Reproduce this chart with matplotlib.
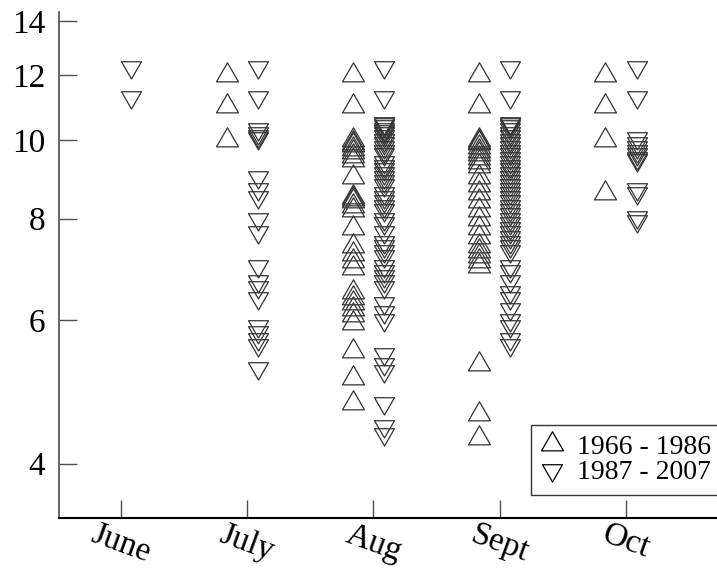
import numpy as np
import matplotlib
matplotlib.use('Agg')
from matplotlib import pyplot as plt
from matplotlib.path import Path
from matplotlib.lines import Line2D
from matplotlib.ticker import NullLocator

# 月份与坐标刻度
months = ['June', 'July', 'Aug', 'Sept', 'Oct']
y_ticks = [4, 6, 8, 10, 12, 14]
legend_labels = ['1966 - 1986', '1987 - 2007']

# 1966 - 1986 (正三角)
june_early = []
july_early = [12.0, 11.0, 10.0]
aug_early = [12.0, 11.0, 10.0, 9.9, 9.85, 9.75, 9.65, 9.55, 9.45, 9.0, 8.5, 8.45, 8.4,
             8.3, 8.2, 7.8, 7.4, 7.25, 7.1, 6.95, 6.5, 6.4, 6.3, 6.2, 6.1, 5.95, 5.5,
             5.1, 4.75]
sept_early = [12.0, 11.0, 10.0, 9.95, 9.9, 9.8, 9.7, 9.6, 9.5, 9.4, 9.3, 9.0, 8.8, 8.6,
              8.4, 8.2, 8.0, 7.8, 7.6, 7.4, 7.3, 7.2, 7.1, 7.0, 5.3, 4.6, 4.3]
oct_early = [12.0, 11.0, 10.0, 8.6]

# 1987 - 2007 (倒三角)
june_late = [12.3, 11.3]
july_late = [12.3, 11.3, 10.3, 10.2, 10.1, 10.05, 9.0, 8.7, 8.5, 8.0, 7.7, 7.0, 6.7,
             6.6, 6.4, 5.9, 5.8, 5.7, 5.6, 5.25]
aug_late = [12.3, 11.3, 10.5, 10.45, 10.4, 10.3, 10.25, 10.2, 10.1, 10.0, 9.9, 9.8, 9.7,
            9.6, 9.4, 9.3, 9.2, 9.1, 9.0, 8.9, 8.8, 8.6, 8.5, 8.4, 8.3, 8.2, 8.0, 7.9,
            7.7, 7.5, 7.4, 7.3, 7.2, 7.0, 6.9, 6.8, 6.7, 6.6, 6.3, 6.15, 6.0, 5.45,
            5.3, 5.2, 4.75, 4.45, 4.35]
sept_late = [12.3, 11.3, 10.5, 10.45, 10.4, 10.3, 10.2, 10.1, 10.0, 9.9, 9.8, 9.7, 9.6,
             9.5, 9.4, 9.3, 9.2, 9.1, 9.0, 8.9, 8.8, 8.7, 8.6, 8.5, 8.4, 8.3, 8.2, 8.1,
             8.0, 7.9, 7.8, 7.7, 7.6, 7.5, 7.4, 7.3, 7.0, 6.9, 6.7, 6.5, 6.4, 6.2, 6.0,
             5.9, 5.7, 5.6]
oct_late = [12.3, 11.3, 10.05, 9.9, 9.8, 9.7, 9.6, 9.5, 9.45, 8.7, 8.6, 8.05, 7.95]

early = [june_early, july_early, aug_early, sept_early, oct_early]
late = [june_late, july_late, aug_late, sept_late, oct_late]


def tri_marker(up=True):
    # 等边三角形，重心在原点
    s = 1 if up else -1
    verts = [(0, s * 1.0), (-0.866, -s * 0.5), (0.866, -s * 0.5), (0, s * 1.0)]
    return Path(verts, closed=True)


up_marker = tri_marker(True)
down_marker = tri_marker(False)
edge = '0.2'

plt.rcParams['font.family'] = ['Liberation Serif', 'DejaVu Serif']

fig = plt.figure(figsize=(7.17, 5.69), dpi=100)
ax = fig.add_axes([59 / 717, 1 - 518 / 569, 1 - 59 / 717, (518 - 12) / 569])

# 画点
for i, vals in enumerate(early):
    if len(vals) == 0:
        continue
    ax.plot(np.full(len(vals), i + 1 - 0.163), vals, linestyle='none', marker=up_marker,
            ms=18.3, mfc='none', mec=edge, mew=0.9)
for i, vals in enumerate(late):
    ax.plot(np.full(len(vals), i + 1 + 0.083), vals, linestyle='none', marker=down_marker,
            ms=16.6, mfc='none', mec=edge, mew=0.9)

# 坐标轴
ax.set_yscale('log')
ax.set_ylim(3.43, 14.36)
ax.set_xlim(0.511, 5.72)
ax.set_yticks(y_ticks)
ax.set_yticklabels([str(t) for t in y_ticks])
ax.yaxis.set_minor_locator(NullLocator())
ax.set_xticks(range(1, len(months) + 1))
ax.set_xticklabels(months, rotation=-20, ha='center', va='top')

ax.tick_params(axis='y', direction='in', length=13, width=1.0, color='0.3',
               labelsize=24, pad=10)
ax.tick_params(axis='x', direction='in', length=13, width=1.0, color='0.3',
               labelsize=24, pad=1)
ax.spines['top'].set_visible(False)
ax.spines['right'].set_visible(False)
ax.spines['left'].set_color('0.3')
ax.spines['left'].set_linewidth(1.2)
ax.spines['bottom'].set_color('black')
ax.spines['bottom'].set_linewidth(1.5)

# 图例
handles = [
    Line2D([], [], linestyle='none', marker=up_marker, ms=18.3, mfc='none', mec='black', mew=0.9),
    Line2D([], [], linestyle='none', marker=down_marker, ms=16.6, mfc='none', mec='black', mew=0.9),
]
leg = fig.legend(handles, legend_labels, loc='lower right', bbox_to_anchor=(1.006, 0.13),
                 bbox_transform=fig.transFigure, fontsize=20, frameon=True, fancybox=False,
                 borderpad=0.35, labelspacing=0.0, handlelength=0.8, handletextpad=0.52,
                 borderaxespad=0)
leg.get_frame().set_edgecolor('black')
leg.get_frame().set_linewidth(1.0)

fig.savefig('out.png', dpi=100)
